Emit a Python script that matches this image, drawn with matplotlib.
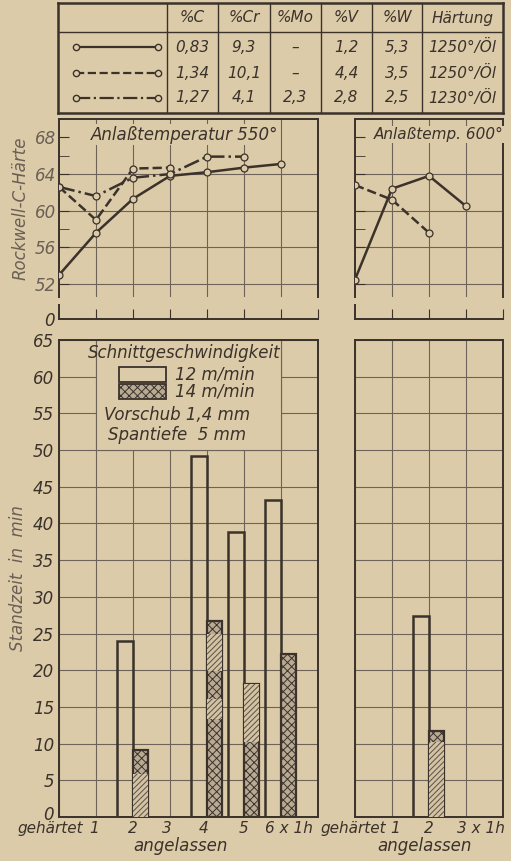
import matplotlib
matplotlib.use("Agg")
import matplotlib.pyplot as plt
from matplotlib.patches import Rectangle
from matplotlib.transforms import ScaledTranslation

plt.rcParams['font.family'] = ['Liberation Sans Narrow', 'DejaVu Sans']
plt.rcParams['font.style'] = 'italic'
plt.rcParams['hatch.linewidth'] = 0.7
plt.rcParams['hatch.color'] = '#5a5048'

paper = '#dccba8'
ink = '#3a322b'
grid_c = '#6e6358'
faded = '#6a5f55'

# Zusammensetzung der drei Stähle
cols = ['%C', '%Cr', '%Mo', '%V', '%W', 'Härtung']
steel_rows = [
    ['0,83', '9,3', '–', '1,2', '5,3', '1250°/Öl'],
    ['1,34', '10,1', '–', '4,4', '3,5', '1250°/Öl'],
    ['1,27', '4,1', '2,3', '2,8', '2,5', '1230°/Öl'],
]
styles = ['-', '--', '-.']

# Rockwell-C-Härte, Anlaßtemperatur 550°
x550_a = [0, 1, 2, 3, 4, 5, 6]
hrc550_a = [53.0, 57.6, 61.3, 63.8, 64.2, 64.7, 65.1]
x550_b = [0, 1, 2, 3]
hrc550_b = [62.6, 59.0, 64.6, 64.7]
x550_c = [0, 1, 2, 3, 4, 5]
hrc550_c = [62.6, 61.6, 63.6, 64.0, 65.9, 65.9]

# Rockwell-C-Härte, Anlaßtemperatur 600°
x600_a = [0, 1, 2, 3]
hrc600_a = [52.5, 62.4, 63.8, 60.5]
x600_b = [0, 1, 2]
hrc600_b = [62.8, 61.2, 57.6]

# Standzeit in min (12 und 14 m/min), 550°
pos550 = [2, 4, 5, 6]
life12_550 = [24.0, 49.2, 38.8, 43.2]
life14_550 = [9.1, 26.7, 18.1, 22.2]
# schraffierte Abschnitte der 14 m/min-Balken
hatch_pos550 = [2, 4, 4, 5]
hatch_lo550 = [0.0, 13.4, 19.9, 10.2]
hatch_hi550 = [5.9, 16.1, 24.9, 18.1]

# Standzeit, 600°
pos600 = [2]
life12_600 = [27.4]
life14_600 = [11.7]
hatch_pos600 = [2]
hatch_lo600 = [0.0]
hatch_hi600 = [10.2]

labels550 = ['gehärtet', '1', '2', '3', '4', '5', '6 x 1h']
labels600 = ['gehärtet', '1', '2', '3 x 1h']
# seitliche Verschiebung einzelner Beschriftungen in Pixeln
shift550 = [-9, -2, 0, -3, -3, 0, 8]
shift600 = [-2, 3, 0, 15]

W, H = 511, 861
fig = plt.figure(figsize=(W / 100, H / 100), dpi=100, facecolor=paper)


def box(x0, y0, x1, y1):
    ax = fig.add_axes([x0 / W, 1 - y1 / H, (x1 - x0) / W, (y1 - y0) / H])
    ax.set_facecolor(paper)
    for s in ax.spines.values():
        s.set_color(ink)
        s.set_linewidth(1.4)
    return ax


# ---- Tabelle oben ----
tab = box(58, 3, 503, 113)
for s in tab.spines.values():
    s.set_linewidth(1.8)
tab.set_xlim(0, 445)
tab.set_ylim(110, 0)
tab.set_xticks([])
tab.set_yticks([])
col_edges = [0, 109, 160, 212, 263, 314, 364, 445]
for xe in col_edges[1:-1]:
    tab.plot([xe, xe], [0, 110], color=ink, lw=1.0)
tab.plot([0, 445], [29, 29], color=ink, lw=1.0)
for j, c in enumerate(cols):
    xc = (col_edges[j + 1] + col_edges[j + 2]) / 2
    tab.text(xc, 15, c, ha='center', va='center', fontsize=11, color=ink)
row_y = [44, 70, 95]
for i, row in enumerate(steel_rows):
    tab.plot([18, 100], [row_y[i], row_y[i]], ls=styles[i], color=ink, lw=1.6,
             marker='o', ms=4.5, mfc=paper, mec=ink, mew=1.0)
    for j, v in enumerate(row):
        xc = (col_edges[j + 1] + col_edges[j + 2]) / 2
        tab.text(xc, row_y[i], v, ha='center', va='center', fontsize=11, color=ink)


# ---- Härte ----
def hardness_panel(x0, x1, nmax, series, title, title_x, title_fs, show_labels):
    ax = box(x0, 119, x1, 297)
    ax.set_xlim(0, nmax)
    ax.set_ylim(50.6, 70.0)
    ax.spines['bottom'].set_visible(False)
    ax.set_xticks(range(1, nmax))
    ax.set_yticks([52, 56, 60, 64, 68])
    ax.set_yticks([58, 66], minor=True)
    ax.tick_params(axis='x', length=0, labelbottom=False)
    ax.tick_params(axis='y', which='both', direction='in', length=7, color=ink,
                   labelsize=12, labelcolor=faded, labelleft=show_labels, pad=2)
    ax.grid(True, color=grid_c, lw=0.8)
    ax.get_ygridlines()[-1].set_visible(False)
    ax.set_axisbelow(True)
    for xs, ys, ls in series:
        ax.plot(xs, ys, ls=ls, color=ink, lw=1.8, marker='o', ms=5,
                mfc=paper, mec=ink, mew=0.9, zorder=3)
    ax.text(title_x, 68.3, title, ha='center', va='center', fontsize=title_fs, color=ink,
            bbox=dict(facecolor=paper, edgecolor='none', pad=1.0), zorder=4)
    # abgesetzter Nullpunkt darunter
    z = box(x0, 305, x1, 319)
    z.set_xlim(0, nmax)
    z.set_ylim(0, 1)
    z.spines['top'].set_visible(False)
    z.spines['right'].set_visible(False)
    z.set_xticks(range(1, nmax + 1))
    z.set_yticks([0])
    z.set_yticklabels(['0'] if show_labels else [''])
    z.tick_params(axis='x', direction='in', length=7, color=ink, labelbottom=False)
    z.tick_params(axis='y', length=0, labelsize=12, labelcolor=ink, pad=3)
    return ax


h1 = hardness_panel(59, 318, 7,
                    [(x550_a, hrc550_a, '-'), (x550_b, hrc550_b, '--'), (x550_c, hrc550_c, '-.')],
                    'Anlaßtemperatur 550°', 3.4, 12, True)
h1.set_ylabel('Rockwell-C-Härte', fontsize=12, color=faded, labelpad=4)
h2 = hardness_panel(355, 503, 4,
                    [(x600_a, hrc600_a, '-'), (x600_b, hrc600_b, '--')],
                    'Anlaßtemp. 600°', 2.25, 11, False)


# ---- Standzeit ----
def life_panel(x0, x1, nmax, pos, v12, v14, hpos, hlo, hhi, labels, shifts, show_labels):
    ax = box(x0, 340, x1, 817)
    ax.set_xlim(0, nmax)
    ax.set_ylim(0, 65)
    ax.set_xticks(range(0, len(labels)), labels)
    ax.set_yticks(range(0, 66, 5))
    ax.tick_params(axis='x', length=0, labelsize=11, labelcolor=ink, pad=3)
    ax.tick_params(axis='y', length=0, labelsize=12, labelcolor=ink, labelleft=show_labels)
    for lab, dx in zip(ax.get_xticklabels(), shifts):
        lab.set_transform(lab.get_transform() + ScaledTranslation(dx / 100, 0, fig.dpi_scale_trans))
    if show_labels:
        # die Null etwas anheben
        y0lab = ax.get_yticklabels()[0]
        y0lab.set_transform(y0lab.get_transform() + ScaledTranslation(0, 4 / 100, fig.dpi_scale_trans))
    ax.grid(True, color=grid_c, lw=0.8)
    ax.set_axisbelow(True)
    ax.bar(pos, v12, width=-0.42, align='edge', facecolor='none', edgecolor=ink,
           lw=1.8, zorder=3)
    ax.bar(pos, v14, width=0.40, align='edge', facecolor='#b9aa93', edgecolor=ink,
           hatch='xxxx', lw=1.6, zorder=3)
    hb = [h - l for l, h in zip(hlo, hhi)]
    ax.bar(hpos, hb, bottom=hlo, width=0.40, align='edge', facecolor='#d3c3a3',
           edgecolor='#5a5048', hatch='//////', lw=0, zorder=3.5)
    ax.text(nmax * 0.47, -4.0, 'angelassen', ha='center', va='center', fontsize=12,
            color=ink)
    return ax


b1 = life_panel(59, 318, 7, pos550, life12_550, life14_550,
                hatch_pos550, hatch_lo550, hatch_hi550, labels550, shift550, True)
b1.set_ylabel('Standzeit  in  min', fontsize=12, color=faded, labelpad=4)
b2 = life_panel(355, 503, 4, pos600, life12_600, life14_600,
                hatch_pos600, hatch_lo600, hatch_hi600, labels600, shift600, False)

# Legende im Feld oben links
b1.add_patch(Rectangle((1, 50), 5, 15, facecolor=paper, edgecolor=grid_c, lw=0.8, zorder=1))
b1.text(3.38, 63.2, 'Schnittgeschwindigkeit', ha='center', va='center', fontsize=12, color=ink)
b1.add_patch(Rectangle((1.62, 59.3), 1.27, 2.0, facecolor='none', edgecolor=ink, lw=1.3, zorder=3))
b1.add_patch(Rectangle((1.62, 57.0), 1.27, 2.0, facecolor='#b9aa93', edgecolor=ink,
                       hatch='xxxx', lw=1.3, zorder=3))
b1.text(3.14, 60.3, '12 m/min', ha='left', va='center', fontsize=12, color=ink)
b1.text(3.14, 58.0, '14 m/min', ha='left', va='center', fontsize=12, color=ink)
b1.text(3.2, 54.8, 'Vorschub 1,4 mm', ha='center', va='center', fontsize=12, color=ink)
b1.text(3.2, 52.0, 'Spantiefe  5 mm', ha='center', va='center', fontsize=12, color=ink)

fig.savefig('out.png', dpi=100, facecolor=paper)
